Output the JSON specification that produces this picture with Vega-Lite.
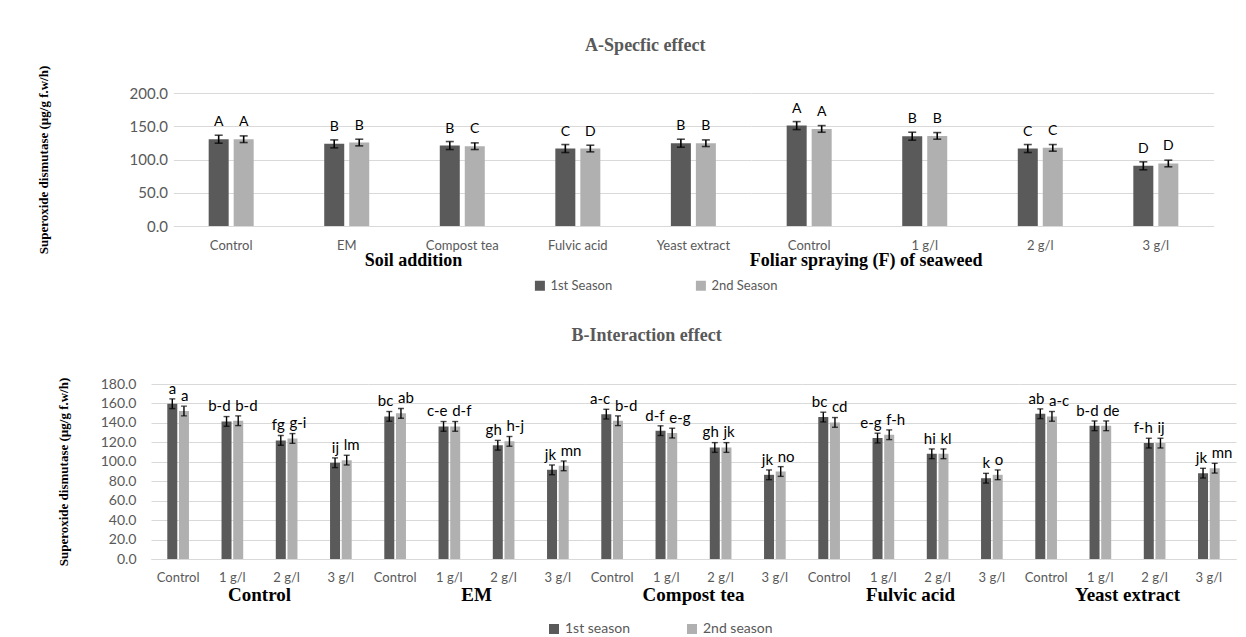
{
  "$schema": "https://vega.github.io/schema/vega-lite/v6.json",
  "background": "white",
  "padding": {"left": 37, "top": 37, "right": 5, "bottom": 0},
  "center": true,
  "config": {
    "view": {"stroke": null},
    "font": "Lato",
    "axisY": {"grid": true, "gridColor": "#d9d9d9", "domain": false, "ticks": false, "labelColor": "#595959", "titleFont": "Liberation Serif", "titleFontWeight": "bold", "titleColor": "black", "titleFontSize": 13, "labelOverlap": false},
    "axisX": {"ticks": false, "domainColor": "#d9d9d9", "labelColor": "#595959", "labelAngle": 0, "title": null, "grid": false},
    "legend": {"symbolType": "square", "labelColor": "#595959", "title": null, "direction": "horizontal"}
  },
  "spacing": 34,
  "resolve": {"scale": {"color": "independent", "xOffset": "independent"}, "legend": {"color": "independent"}},
  "vconcat": [
    {
      "data": {"values": [
        {"factor": "Soil addition", "treat": "Control", "season": "1st Season", "value": 130.5, "err": 6, "letter": "A"},
        {"factor": "Soil addition", "treat": "Control", "season": "2nd Season", "value": 130.5, "err": 5, "letter": "A"},
        {"factor": "Soil addition", "treat": "EM", "season": "1st Season", "value": 123.5, "err": 6, "letter": "B"},
        {"factor": "Soil addition", "treat": "EM", "season": "2nd Season", "value": 125.5, "err": 5, "letter": "B"},
        {"factor": "Soil addition", "treat": "Compost tea", "season": "1st Season", "value": 121, "err": 6, "letter": "B"},
        {"factor": "Soil addition", "treat": "Compost tea", "season": "2nd Season", "value": 120, "err": 5, "letter": "C"},
        {"factor": "Soil addition", "treat": "Fulvic acid", "season": "1st Season", "value": 116.5, "err": 6, "letter": "C"},
        {"factor": "Soil addition", "treat": "Fulvic acid", "season": "2nd Season", "value": 116.5, "err": 5, "letter": "D"},
        {"factor": "Soil addition", "treat": "Yeast extract", "season": "1st Season", "value": 124.5, "err": 6, "letter": "B"},
        {"factor": "Soil addition", "treat": "Yeast extract", "season": "2nd Season", "value": 124.5, "err": 5, "letter": "B"},
        {"factor": "Foliar spraying (F) of seaweed", "treat": "Control", "season": "1st Season", "value": 151, "err": 6, "letter": "A"},
        {"factor": "Foliar spraying (F) of seaweed", "treat": "Control", "season": "2nd Season", "value": 146, "err": 5, "letter": "A"},
        {"factor": "Foliar spraying (F) of seaweed", "treat": "1 g/l", "season": "1st Season", "value": 135, "err": 6, "letter": "B"},
        {"factor": "Foliar spraying (F) of seaweed", "treat": "1 g/l", "season": "2nd Season", "value": 135.5, "err": 5, "letter": "B"},
        {"factor": "Foliar spraying (F) of seaweed", "treat": "2 g/l", "season": "1st Season", "value": 116.5, "err": 6, "letter": "C"},
        {"factor": "Foliar spraying (F) of seaweed", "treat": "2 g/l", "season": "2nd Season", "value": 117.5, "err": 5, "letter": "C"},
        {"factor": "Foliar spraying (F) of seaweed", "treat": "3 g/l", "season": "1st Season", "value": 90.5, "err": 6, "letter": "D"},
        {"factor": "Foliar spraying (F) of seaweed", "treat": "3 g/l", "season": "2nd Season", "value": 94, "err": 5, "letter": "D"}
      ]},
      "title": {"text": "A-Specfic effect", "font": "Liberation Serif", "fontSize": 18, "fontWeight": "bold", "color": "#595959", "offset": 10, "anchor": "middle", "dx": 20},
      "facet": {"column": {"field": "factor", "type": "nominal", "sort": ["Soil addition", "Foliar spraying (F) of seaweed"],
        "header": {"title": null, "labelOrient": "bottom", "labelFont": "Liberation Serif", "labelFontWeight": "bold", "labelFontSize": 18, "labelColor": "black", "labelPadding": 0, "labelAlign": "right"}}},
      "spacing": 0,
      "resolve": {"scale": {"x": "independent"}},
      "spec": {
        "width": {"step": 115.55, "for": "position"},
        "height": 133,
        "encoding": {
          "x": {"field": "treat", "type": "nominal", "sort": null, "scale": {"paddingInner": 0.6106, "paddingOuter": 0.3053}, "axis": {"labelFontSize": 13, "labelPadding": 13}},
          "xOffset": {"field": "season", "type": "nominal", "scale": {"paddingInner": 0.2, "paddingOuter": 0, "range": [0, 45]}},
          "y": {"field": "value", "type": "quantitative", "title": "Superoxide dismutase (µg/g f.w/h)", "scale": {"domain": [0, 200]}, "axis": {"format": ".1f", "values": [0, 50, 100, 150, 200], "labelFontSize": 15, "labelPadding": 6, "titlePadding": 79}}
        },
        "layer": [
          {"mark": {"type": "bar", "width": 20},
           "encoding": {
             "color": {"field": "season", "type": "nominal", "scale": {"range": ["#5a5a5a", "#b0b0b0"]}, "legend": {"orient": "none", "legendX": 360, "legendY": 186, "labelFontSize": 13, "columnPadding": 82}}
           }},
          {"mark": {"type": "errorbar", "ticks": {"size": 8}, "color": "black", "thickness": 1.6},
           "encoding": {"yError": {"field": "err"}}},
          {"mark": {"type": "text", "dy": -13, "baseline": "alphabetic", "fontSize": 14, "font": "Lato", "color": "black"},
           "encoding": {"text": {"field": "letter"}}}
        ]
      }
    },
    {
      "data": {"values": [
        {"soil": "Control", "foliar": "Control", "season": "1st season", "value": 159.7, "err": 5, "letter": "a"},
        {"soil": "Control", "foliar": "Control", "season": "2nd season", "value": 152.2, "err": 5, "letter": "a"},
        {"soil": "Control", "foliar": "1 g/l", "season": "1st season", "value": 141.5, "err": 5, "letter": "b-d"},
        {"soil": "Control", "foliar": "1 g/l", "season": "2nd season", "value": 142.2, "err": 5, "letter": "b-d"},
        {"soil": "Control", "foliar": "2 g/l", "season": "1st season", "value": 122, "err": 5, "letter": "fg"},
        {"soil": "Control", "foliar": "2 g/l", "season": "2nd season", "value": 124, "err": 5, "letter": "g-i"},
        {"soil": "Control", "foliar": "3 g/l", "season": "1st season", "value": 99, "err": 5, "letter": "ij"},
        {"soil": "Control", "foliar": "3 g/l", "season": "2nd season", "value": 101.7, "err": 5, "letter": "lm"},
        {"soil": "EM", "foliar": "Control", "season": "1st season", "value": 146.7, "err": 5, "letter": "bc"},
        {"soil": "EM", "foliar": "Control", "season": "2nd season", "value": 149.8, "err": 5, "letter": "ab"},
        {"soil": "EM", "foliar": "1 g/l", "season": "1st season", "value": 136.4, "err": 5, "letter": "c-e"},
        {"soil": "EM", "foliar": "1 g/l", "season": "2nd season", "value": 136.4, "err": 5, "letter": "d-f"},
        {"soil": "EM", "foliar": "2 g/l", "season": "1st season", "value": 117, "err": 5, "letter": "gh"},
        {"soil": "EM", "foliar": "2 g/l", "season": "2nd season", "value": 121, "err": 5, "letter": "h-j"},
        {"soil": "EM", "foliar": "3 g/l", "season": "1st season", "value": 91.7, "err": 5, "letter": "jk"},
        {"soil": "EM", "foliar": "3 g/l", "season": "2nd season", "value": 95.8, "err": 5, "letter": "mn"},
        {"soil": "Compost tea", "foliar": "Control", "season": "1st season", "value": 149, "err": 5, "letter": "a-c"},
        {"soil": "Compost tea", "foliar": "Control", "season": "2nd season", "value": 142.2, "err": 5, "letter": "b-d"},
        {"soil": "Compost tea", "foliar": "1 g/l", "season": "1st season", "value": 132, "err": 5, "letter": "d-f"},
        {"soil": "Compost tea", "foliar": "1 g/l", "season": "2nd season", "value": 129.5, "err": 5, "letter": "e-g"},
        {"soil": "Compost tea", "foliar": "2 g/l", "season": "1st season", "value": 114.7, "err": 5, "letter": "gh"},
        {"soil": "Compost tea", "foliar": "2 g/l", "season": "2nd season", "value": 114.7, "err": 5, "letter": "jk"},
        {"soil": "Compost tea", "foliar": "3 g/l", "season": "1st season", "value": 86.6, "err": 5, "letter": "jk"},
        {"soil": "Compost tea", "foliar": "3 g/l", "season": "2nd season", "value": 90, "err": 5, "letter": "no"},
        {"soil": "Fulvic acid", "foliar": "Control", "season": "1st season", "value": 146, "err": 5, "letter": "bc"},
        {"soil": "Fulvic acid", "foliar": "Control", "season": "2nd season", "value": 140.5, "err": 5, "letter": "cd"},
        {"soil": "Fulvic acid", "foliar": "1 g/l", "season": "1st season", "value": 124.4, "err": 5, "letter": "e-g"},
        {"soil": "Fulvic acid", "foliar": "1 g/l", "season": "2nd season", "value": 127.8, "err": 5, "letter": "f-h"},
        {"soil": "Fulvic acid", "foliar": "2 g/l", "season": "1st season", "value": 108.2, "err": 5, "letter": "hi"},
        {"soil": "Fulvic acid", "foliar": "2 g/l", "season": "2nd season", "value": 108.2, "err": 5, "letter": "kl"},
        {"soil": "Fulvic acid", "foliar": "3 g/l", "season": "1st season", "value": 83.1, "err": 5, "letter": "k"},
        {"soil": "Fulvic acid", "foliar": "3 g/l", "season": "2nd season", "value": 86.6, "err": 5, "letter": "o"},
        {"soil": "Yeast extract", "foliar": "Control", "season": "1st season", "value": 149.4, "err": 5, "letter": "ab"},
        {"soil": "Yeast extract", "foliar": "Control", "season": "2nd season", "value": 146.7, "err": 5, "letter": "a-c"},
        {"soil": "Yeast extract", "foliar": "1 g/l", "season": "1st season", "value": 137, "err": 5, "letter": "b-d"},
        {"soil": "Yeast extract", "foliar": "1 g/l", "season": "2nd season", "value": 137, "err": 5, "letter": "de"},
        {"soil": "Yeast extract", "foliar": "2 g/l", "season": "1st season", "value": 119.2, "err": 5, "letter": "f-h"},
        {"soil": "Yeast extract", "foliar": "2 g/l", "season": "2nd season", "value": 119.2, "err": 5, "letter": "ij"},
        {"soil": "Yeast extract", "foliar": "3 g/l", "season": "1st season", "value": 88.3, "err": 5, "letter": "jk"},
        {"soil": "Yeast extract", "foliar": "3 g/l", "season": "2nd season", "value": 93.4, "err": 5, "letter": "mn"}
      ]},
      "title": {"text": "B-Interaction effect", "font": "Liberation Serif", "fontSize": 18, "fontWeight": "bold", "color": "#595959", "offset": 32, "anchor": "middle", "dx": 0},
      "facet": {"column": {"field": "soil", "type": "nominal", "sort": ["Control", "EM", "Compost tea", "Fulvic acid", "Yeast extract"],
        "header": {"title": null, "labelOrient": "bottom", "labelFont": "Liberation Serif", "labelFontWeight": "bold", "labelFontSize": 19, "labelColor": "black", "labelPadding": 2}}},
      "spacing": 0,
      "resolve": {"scale": {"x": "independent"}},
      "spec": {
        "width": {"step": 54.25, "for": "position"},
        "height": 175,
        "encoding": {
          "x": {"field": "foliar", "type": "nominal", "sort": null, "scale": {"paddingInner": 0.6, "paddingOuter": 0.3}, "axis": {"labelFontSize": 13, "labelPadding": 12}},
          "xOffset": {"field": "season", "type": "nominal", "scale": {"paddingInner": 0.14, "paddingOuter": 0, "range": [0, 21.7]}},
          "y": {"field": "value", "type": "quantitative", "title": "Superoxide dismutase (µg/g f.w/h)", "scale": {"domain": [0, 180]}, "axis": {"format": ".1f", "values": [0, 20, 40, 60, 80, 100, 120, 140, 160, 180], "labelFontSize": 14, "labelPadding": 15, "titlePadding": 30}}
        },
        "layer": [
          {"mark": {"type": "bar", "width": 10},
           "encoding": {
             "color": {"field": "season", "type": "nominal", "scale": {"range": ["#5a5a5a", "#b0b0b0"]}, "legend": {"orient": "none", "legendX": 396, "legendY": 238, "labelFontSize": 14, "columnPadding": 54}}
           }},
          {"mark": {"type": "errorbar", "ticks": {"size": 6}, "color": "black", "thickness": 1.4},
           "encoding": {"yError": {"field": "err"}}},
          {"transform": [{"filter": "datum.season === '1st season'"}],
           "mark": {"type": "text", "dy": -10, "dx": 4, "align": "right", "baseline": "alphabetic", "fontSize": 15, "font": "Lato", "color": "black"},
           "encoding": {"text": {"field": "letter"}}},
          {"transform": [{"filter": "datum.season === '2nd season'"}],
           "mark": {"type": "text", "dy": -10, "dx": -3, "align": "left", "baseline": "alphabetic", "fontSize": 15, "font": "Lato", "color": "black"},
           "encoding": {"text": {"field": "letter"}}}
        ]
      }
    }
  ]
}
